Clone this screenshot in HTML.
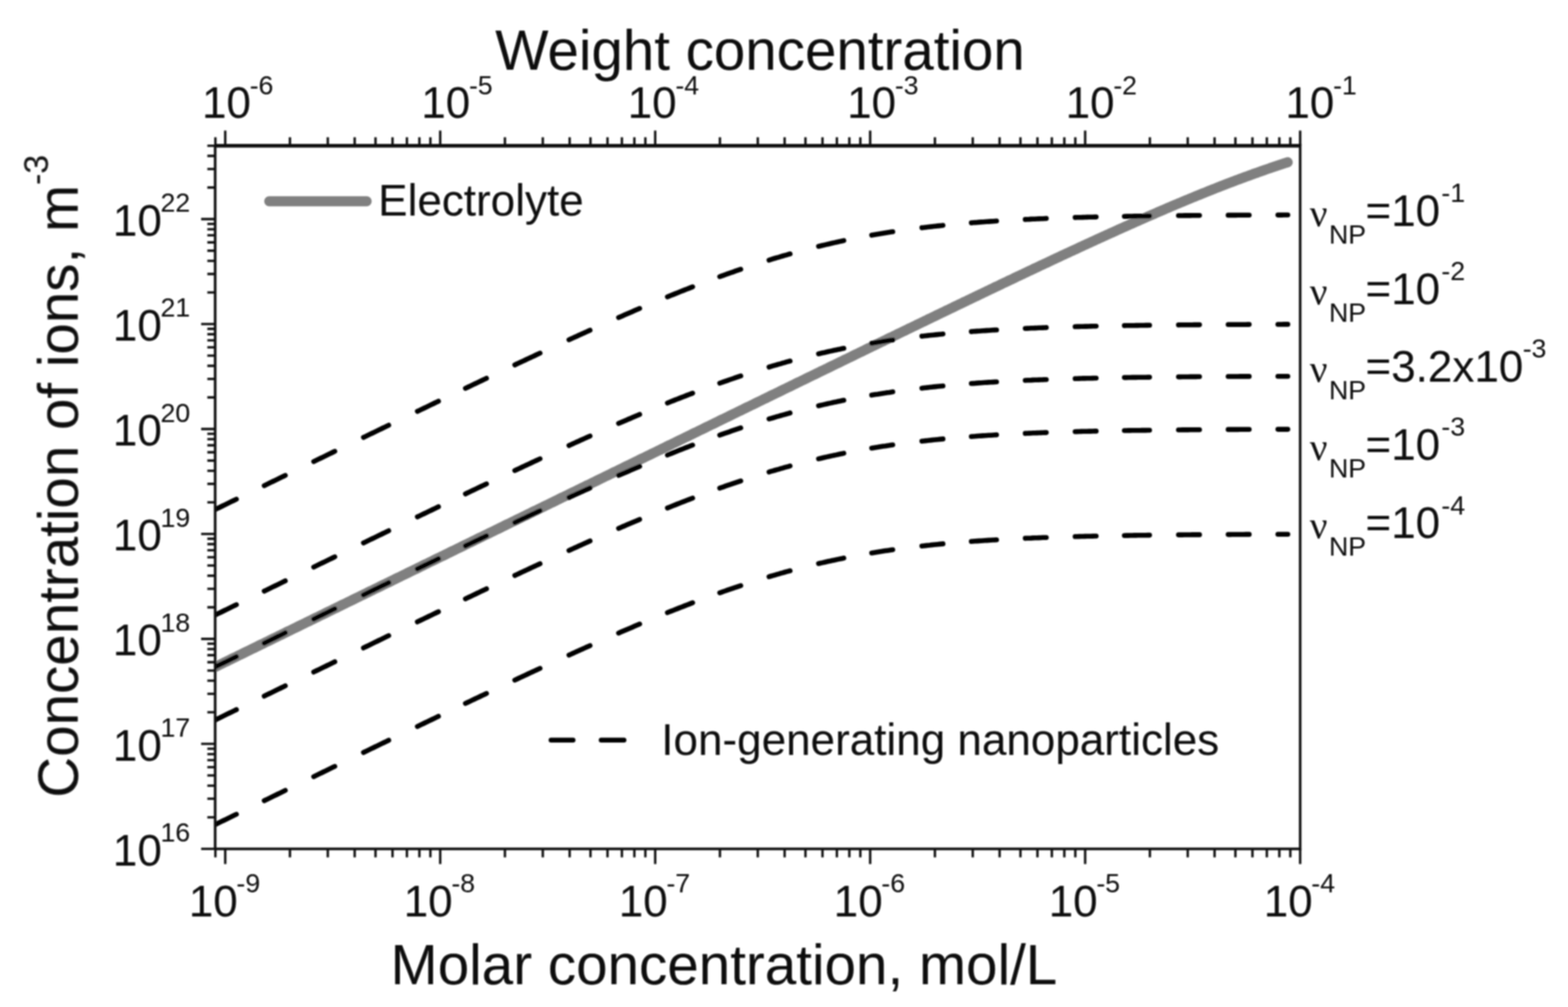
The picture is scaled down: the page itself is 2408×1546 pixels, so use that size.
<!DOCTYPE html>
<html lang="en"><head><meta charset="utf-8"><title>Concentration of ions vs molar concentration</title>
<style>
html,body{margin:0;padding:0;background:#fff;}
body{width:2408px;height:1546px;overflow:hidden;}
svg{display:block;}
text{white-space:pre;}
</style></head>
<body>
<svg width="2408" height="1546" viewBox="0 0 2408 1546">
<rect x="0" y="0" width="2408" height="1546" fill="#fff"/>
<defs><filter id="soft" x="0" y="0" width="2408" height="1546" filterUnits="userSpaceOnUse"><feGaussianBlur stdDeviation="0.8"/></filter></defs>
<g filter="url(#soft)">
<defs><clipPath id="plotclip"><rect x="330.4" y="223.7" width="1666.3000000000002" height="1079.5"/></clipPath></defs>
<path d="M320.4 1028.9L323.4 1027.4L326.4 1025.9L329.4 1024.5L332.4 1023.0L335.4 1021.5L338.4 1020.1L341.4 1018.6L344.4 1017.1L347.4 1015.7L350.4 1014.2L353.4 1012.8L356.4 1011.3L359.4 1009.8L362.4 1008.4L365.4 1006.9L368.4 1005.4L371.4 1004.0L374.4 1002.5L377.4 1001.0L380.4 999.6L383.4 998.1L386.4 996.6L389.4 995.2L392.4 993.7L395.4 992.3L398.4 990.8L401.4 989.3L404.4 987.9L407.4 986.4L410.4 984.9L413.4 983.5L416.4 982.0L419.4 980.5L422.4 979.1L425.4 977.6L428.4 976.1L431.4 974.7L434.4 973.2L437.4 971.8L440.4 970.3L443.4 968.8L446.4 967.4L449.4 965.9L452.4 964.4L455.4 963.0L458.4 961.5L461.4 960.0L464.4 958.6L467.4 957.1L470.4 955.6L473.4 954.2L476.4 952.7L479.4 951.3L482.4 949.8L485.4 948.3L488.4 946.9L491.4 945.4L494.4 943.9L497.4 942.5L500.4 941.0L503.4 939.5L506.4 938.1L509.4 936.6L512.4 935.1L515.4 933.7L518.4 932.2L521.4 930.8L524.4 929.3L527.4 927.8L530.4 926.4L533.4 924.9L536.4 923.4L539.4 922.0L542.4 920.5L545.4 919.0L548.4 917.6L551.4 916.1L554.4 914.6L557.4 913.2L560.4 911.7L563.4 910.3L566.4 908.8L569.4 907.3L572.4 905.9L575.4 904.4L578.4 902.9L581.4 901.5L584.4 900.0L587.4 898.5L590.4 897.1L593.4 895.6L596.4 894.2L599.4 892.7L602.4 891.2L605.4 889.8L608.4 888.3L611.4 886.8L614.4 885.4L617.4 883.9L620.4 882.4L623.4 881.0L626.4 879.5L629.4 878.0L632.4 876.6L635.4 875.1L638.4 873.7L641.4 872.2L644.4 870.7L647.4 869.3L650.4 867.8L653.4 866.3L656.4 864.9L659.4 863.4L662.4 861.9L665.4 860.5L668.4 859.0L671.4 857.5L674.4 856.1L677.4 854.6L680.4 853.2L683.4 851.7L686.4 850.2L689.4 848.8L692.4 847.3L695.4 845.8L698.4 844.4L701.4 842.9L704.4 841.4L707.4 840.0L710.4 838.5L713.4 837.0L716.4 835.6L719.4 834.1L722.4 832.7L725.4 831.2L728.4 829.7L731.4 828.3L734.4 826.8L737.4 825.3L740.4 823.9L743.4 822.4L746.4 820.9L749.4 819.5L752.4 818.0L755.4 816.6L758.4 815.1L761.4 813.6L764.4 812.2L767.4 810.7L770.4 809.2L773.4 807.8L776.4 806.3L779.4 804.8L782.4 803.4L785.4 801.9L788.4 800.4L791.4 799.0L794.4 797.5L797.4 796.1L800.4 794.6L803.4 793.1L806.4 791.7L809.4 790.2L812.4 788.7L815.4 787.3L818.4 785.8L821.4 784.3L824.4 782.9L827.4 781.4L830.4 779.9L833.4 778.5L836.4 777.0L839.4 775.6L842.4 774.1L845.4 772.6L848.4 771.2L851.4 769.7L854.4 768.2L857.4 766.8L860.4 765.3L863.4 763.8L866.4 762.4L869.4 760.9L872.4 759.5L875.4 758.0L878.4 756.5L881.4 755.1L884.4 753.6L887.4 752.1L890.4 750.7L893.4 749.2L896.4 747.7L899.4 746.3L902.4 744.8L905.4 743.4L908.4 741.9L911.4 740.4L914.4 739.0L917.4 737.5L920.4 736.0L923.4 734.6L926.4 733.1L929.4 731.6L932.4 730.2L935.4 728.7L938.4 727.3L941.4 725.8L944.4 724.3L947.4 722.9L950.4 721.4L953.4 719.9L956.4 718.5L959.4 717.0L962.4 715.5L965.4 714.1L968.4 712.6L971.4 711.2L974.4 709.7L977.4 708.2L980.4 706.8L983.4 705.3L986.4 703.8L989.4 702.4L992.4 700.9L995.4 699.4L998.4 698.0L1001.4 696.5L1004.4 695.1L1007.4 693.6L1010.4 692.1L1013.4 690.7L1016.4 689.2L1019.4 687.7L1022.4 686.3L1025.4 684.8L1028.4 683.3L1031.4 681.9L1034.4 680.4L1037.4 679.0L1040.4 677.5L1043.4 676.0L1046.4 674.6L1049.4 673.1L1052.4 671.6L1055.4 670.2L1058.4 668.7L1061.4 667.3L1064.4 665.8L1067.4 664.3L1070.4 662.9L1073.4 661.4L1076.4 659.9L1079.4 658.5L1082.4 657.0L1085.4 655.5L1088.4 654.1L1091.4 652.6L1094.4 651.2L1097.4 649.7L1100.4 648.2L1103.4 646.8L1106.4 645.3L1109.4 643.8L1112.4 642.4L1115.4 640.9L1118.4 639.5L1121.4 638.0L1124.4 636.5L1127.4 635.1L1130.4 633.6L1133.4 632.1L1136.4 630.7L1139.4 629.2L1142.4 627.8L1145.4 626.3L1148.4 624.8L1151.4 623.4L1154.4 621.9L1157.4 620.5L1160.4 619.0L1163.4 617.5L1166.4 616.1L1169.4 614.6L1172.4 613.1L1175.4 611.7L1178.4 610.2L1181.4 608.8L1184.4 607.3L1187.4 605.8L1190.4 604.4L1193.4 602.9L1196.4 601.5L1199.4 600.0L1202.4 598.5L1205.4 597.1L1208.4 595.6L1211.4 594.2L1214.4 592.7L1217.4 591.2L1220.4 589.8L1223.4 588.3L1226.4 586.8L1229.4 585.4L1232.4 583.9L1235.4 582.5L1238.4 581.0L1241.4 579.5L1244.4 578.1L1247.4 576.6L1250.4 575.2L1253.4 573.7L1256.4 572.2L1259.4 570.8L1262.4 569.3L1265.4 567.9L1268.4 566.4L1271.4 565.0L1274.4 563.5L1277.4 562.0L1280.4 560.6L1283.4 559.1L1286.4 557.7L1289.4 556.2L1292.4 554.7L1295.4 553.3L1298.4 551.8L1301.4 550.4L1304.4 548.9L1307.4 547.5L1310.4 546.0L1313.4 544.5L1316.4 543.1L1319.4 541.6L1322.4 540.2L1325.4 538.7L1328.4 537.3L1331.4 535.8L1334.4 534.3L1337.4 532.9L1340.4 531.4L1343.4 530.0L1346.4 528.5L1349.4 527.1L1352.4 525.6L1355.4 524.2L1358.4 522.7L1361.4 521.3L1364.4 519.8L1367.4 518.3L1370.4 516.9L1373.4 515.4L1376.4 514.0L1379.4 512.5L1382.4 511.1L1385.4 509.6L1388.4 508.2L1391.4 506.7L1394.4 505.3L1397.4 503.8L1400.4 502.4L1403.4 500.9L1406.4 499.5L1409.4 498.0L1412.4 496.6L1415.4 495.1L1418.4 493.7L1421.4 492.2L1424.4 490.8L1427.4 489.3L1430.4 487.9L1433.4 486.4L1436.4 485.0L1439.4 483.5L1442.4 482.1L1445.4 480.6L1448.4 479.2L1451.4 477.8L1454.4 476.3L1457.4 474.9L1460.4 473.4L1463.4 472.0L1466.4 470.5L1469.4 469.1L1472.4 467.6L1475.4 466.2L1478.4 464.8L1481.4 463.3L1484.4 461.9L1487.4 460.4L1490.4 459.0L1493.4 457.6L1496.4 456.1L1499.4 454.7L1502.4 453.2L1505.4 451.8L1508.4 450.4L1511.4 448.9L1514.4 447.5L1517.4 446.1L1520.4 444.6L1523.4 443.2L1526.4 441.8L1529.4 440.3L1532.4 438.9L1535.4 437.5L1538.4 436.0L1541.4 434.6L1544.4 433.2L1547.4 431.8L1550.4 430.3L1553.4 428.9L1556.4 427.5L1559.4 426.0L1562.4 424.6L1565.4 423.2L1568.4 421.8L1571.4 420.4L1574.4 418.9L1577.4 417.5L1580.4 416.1L1583.4 414.7L1586.4 413.3L1589.4 411.8L1592.4 410.4L1595.4 409.0L1598.4 407.6L1601.4 406.2L1604.4 404.8L1607.4 403.4L1610.4 402.0L1613.4 400.6L1616.4 399.1L1619.4 397.7L1622.4 396.3L1625.4 394.9L1628.4 393.5L1631.4 392.1L1634.4 390.7L1637.4 389.3L1640.4 387.9L1643.4 386.5L1646.4 385.2L1649.4 383.8L1652.4 382.4L1655.4 381.0L1658.4 379.6L1661.4 378.2L1664.4 376.8L1667.4 375.4L1670.4 374.1L1673.4 372.7L1676.4 371.3L1679.4 369.9L1682.4 368.5L1685.4 367.2L1688.4 365.8L1691.4 364.4L1694.4 363.1L1697.4 361.7L1700.4 360.3L1703.4 359.0L1706.4 357.6L1709.4 356.3L1712.4 354.9L1715.4 353.5L1718.4 352.2L1721.4 350.8L1724.4 349.5L1727.4 348.2L1730.4 346.8L1733.4 345.5L1736.4 344.1L1739.4 342.8L1742.4 341.5L1745.4 340.1L1748.4 338.8L1751.4 337.5L1754.4 336.2L1757.4 334.8L1760.4 333.5L1763.4 332.2L1766.4 330.9L1769.4 329.6L1772.4 328.3L1775.4 327.0L1778.4 325.7L1781.4 324.4L1784.4 323.1L1787.4 321.8L1790.4 320.5L1793.4 319.2L1796.4 318.0L1799.4 316.7L1802.4 315.4L1805.4 314.1L1808.4 312.9L1811.4 311.6L1814.4 310.4L1817.4 309.1L1820.4 307.8L1823.4 306.6L1826.4 305.4L1829.4 304.1L1832.4 302.9L1835.4 301.7L1838.4 300.4L1841.4 299.2L1844.4 298.0L1847.4 296.8L1850.4 295.6L1853.4 294.4L1856.4 293.1L1859.4 292.0L1862.4 290.8L1865.4 289.6L1868.4 288.4L1871.4 287.2L1874.4 286.0L1877.4 284.9L1880.4 283.7L1883.4 282.5L1886.4 281.4L1889.4 280.2L1892.4 279.1L1895.4 278.0L1898.4 276.8L1901.4 275.7L1904.4 274.6L1907.4 273.5L1910.4 272.4L1913.4 271.3L1916.4 270.2L1919.4 269.1L1922.4 268.0L1925.4 266.9L1928.4 265.8L1931.4 264.8L1934.4 263.7L1937.4 262.6L1940.4 261.6L1943.4 260.5L1946.4 259.5L1949.4 258.5L1952.4 257.4L1955.4 256.4L1958.4 255.4L1961.4 254.4L1964.4 253.4L1967.4 252.4L1970.4 251.4L1973.4 250.4L1976.4 249.5L1977.5 249.1" stroke="#808080" stroke-width="15.5" fill="none" stroke-linecap="round" stroke-linejoin="round" clip-path="url(#plotclip)"/>
<path d="M330.2 782.4L333.2 780.9L336.2 779.5L339.2 778.0L342.2 776.5L345.2 775.1L348.2 773.6L351.2 772.2L354.2 770.7L357.2 769.2L360.2 767.8L363.0 766.4M405.8 745.6L408.8 744.1L411.8 742.7L414.8 741.2L417.8 739.7L420.8 738.3L423.8 736.8L426.8 735.4L429.8 733.9L432.8 732.4L435.8 731.0L438.1 729.9M481.8 708.6L484.8 707.1L487.8 705.7L490.8 704.2L493.8 702.8L496.8 701.3L499.8 699.9L502.8 698.4L505.8 696.9L508.8 695.5L511.8 694.0L514.1 692.9M558.2 671.5L561.2 670.1L564.2 668.6L567.2 667.2L570.2 665.7L573.2 664.3L576.2 662.8L579.2 661.4L582.2 659.9L585.2 658.5L588.2 657.0L591.2 655.6L594.2 654.1L596.9 652.8M641.0 631.5L644.0 630.1L647.0 628.6L650.0 627.2L653.0 625.8L656.0 624.3L659.0 622.9L662.0 621.4L665.0 620.0L668.0 618.5L671.0 617.1L673.3 616.0M714.8 596.1L717.8 594.7L720.8 593.3L723.8 591.8L726.8 590.4L729.8 589.0L732.8 587.6L735.8 586.1L738.8 584.7L741.8 583.3L744.8 581.9L747.1 580.8M790.6 560.2L793.6 558.8L796.6 557.4L799.6 556.0L802.6 554.6L805.6 553.2L808.6 551.8L811.6 550.4L814.6 549.0L817.6 547.6L820.6 546.2L823.6 544.8L826.6 543.4L829.3 542.1M873.8 521.6L876.8 520.2L879.8 518.9L882.8 517.5L885.8 516.2L888.8 514.8L891.8 513.4L894.8 512.1L897.8 510.7L900.8 509.4L903.8 508.0L906.1 507.0M950.0 487.5L953.0 486.2L956.0 484.9L959.0 483.6L962.0 482.3L965.0 481.0L968.0 479.7L971.0 478.4L974.0 477.1L977.0 475.8L980.0 474.6L982.3 473.6M1025.0 455.8L1028.0 454.5L1031.0 453.3L1034.0 452.1L1037.0 450.9L1040.0 449.7L1043.0 448.5L1046.0 447.3L1049.0 446.1L1052.0 444.9L1055.0 443.8L1058.0 442.6L1061.0 441.4L1063.7 440.4M1105.3 424.7L1108.3 423.6L1111.3 422.6L1114.3 421.5L1117.3 420.4L1120.3 419.4L1123.3 418.3L1126.3 417.3L1129.3 416.2L1132.3 415.2L1135.3 414.2L1137.6 413.4M1181.0 399.3L1184.0 398.4L1187.0 397.4L1190.0 396.5L1193.0 395.6L1196.0 394.8L1199.0 393.9L1202.0 393.0L1205.0 392.1L1208.0 391.3L1211.0 390.4L1213.3 389.8M1257.1 378.2L1260.1 377.5L1263.1 376.8L1266.1 376.1L1269.1 375.4L1272.1 374.7L1275.1 374.0L1278.1 373.3L1281.1 372.6L1284.1 371.9L1287.1 371.3L1290.1 370.6L1293.1 370.0L1295.8 369.4M1338.7 361.1L1341.7 360.5L1344.7 360.0L1347.7 359.5L1350.7 359.0L1353.7 358.5L1356.7 358.0L1359.7 357.5L1362.7 357.0L1365.7 356.6L1368.7 356.1L1371.0 355.8M1415.8 349.6L1418.8 349.3L1421.8 348.9L1424.8 348.6L1427.8 348.2L1430.8 347.9L1433.8 347.5L1436.8 347.2L1439.8 346.9L1442.8 346.6L1445.8 346.3L1448.1 346.0M1491.7 342.1L1494.7 341.8L1497.7 341.6L1500.7 341.4L1503.7 341.1L1506.7 340.9L1509.7 340.7L1512.7 340.5L1515.7 340.3L1518.7 340.1L1521.7 339.9L1524.7 339.7L1527.7 339.5L1530.4 339.3M1574.5 336.9L1577.5 336.7L1580.5 336.6L1583.5 336.4L1586.5 336.3L1589.5 336.2L1592.5 336.0L1595.5 335.9L1598.5 335.8L1601.5 335.7L1604.5 335.5L1606.8 335.4M1651.1 333.9L1654.1 333.8L1657.1 333.8L1660.1 333.7L1663.1 333.6L1666.1 333.5L1669.1 333.4L1672.1 333.3L1675.1 333.3L1678.1 333.2L1681.1 333.1L1683.4 333.1M1726.7 332.2L1729.7 332.1L1732.7 332.1L1735.7 332.0L1738.7 332.0L1741.7 331.9L1744.7 331.9L1747.7 331.8L1750.7 331.8L1753.7 331.7L1756.7 331.7L1759.7 331.6L1762.7 331.6L1765.4 331.6M1809.8 331.0L1812.8 331.0L1815.8 331.0L1818.8 330.9L1821.8 330.9L1824.8 330.9L1827.8 330.9L1830.8 330.8L1833.8 330.8L1836.8 330.8L1839.8 330.8L1842.1 330.7M1886.1 330.4L1889.1 330.4L1892.1 330.4L1895.1 330.4L1898.1 330.4L1901.1 330.3L1904.1 330.3L1907.1 330.3L1910.1 330.3L1913.1 330.3L1916.1 330.3L1918.4 330.3M1962.5 330.1L1965.5 330.1L1968.5 330.1L1971.5 330.0L1974.5 330.0L1977.5 330.0L1977.7 330.0M330.2 944.3L333.2 942.9L336.2 941.4L339.2 940.0L342.2 938.5L345.2 937.0L348.2 935.6L351.2 934.1L354.2 932.6L357.2 931.2L360.2 929.7L363.0 928.4M405.8 907.5L408.8 906.1L411.8 904.6L414.8 903.1L417.8 901.7L420.8 900.2L423.8 898.8L426.8 897.3L429.8 895.8L432.8 894.4L435.8 892.9L438.1 891.8M481.8 870.6L484.8 869.1L487.8 867.7L490.8 866.2L493.8 864.7L496.8 863.3L499.8 861.8L502.8 860.4L505.8 858.9L508.8 857.5L511.8 856.0L514.1 854.9M558.2 833.5L561.2 832.1L564.2 830.6L567.2 829.2L570.2 827.7L573.2 826.3L576.2 824.8L579.2 823.4L582.2 821.9L585.2 820.5L588.2 819.0L591.2 817.6L594.2 816.1L596.9 814.8M641.0 793.5L644.0 792.1L647.0 790.7L650.0 789.2L653.0 787.8L656.0 786.3L659.0 784.9L662.0 783.5L665.0 782.0L668.0 780.6L671.0 779.1L673.3 778.0M714.8 758.2L717.8 756.8L720.8 755.4L723.8 753.9L726.8 752.5L729.8 751.1L732.8 749.7L735.8 748.2L738.8 746.8L741.8 745.4L744.8 744.0L747.1 742.9M790.6 722.4L793.6 721.0L796.6 719.6L799.6 718.2L802.6 716.8L805.6 715.4L808.6 714.0L811.6 712.6L814.6 711.2L817.6 709.8L820.6 708.4L823.6 707.0L826.6 705.6L829.3 704.4M873.8 684.0L876.8 682.6L879.8 681.2L882.8 679.9L885.8 678.5L888.8 677.2L891.8 675.8L894.8 674.5L897.8 673.1L900.8 671.8L903.8 670.4L906.1 669.4M950.0 650.1L953.0 648.8L956.0 647.5L959.0 646.2L962.0 644.9L965.0 643.6L968.0 642.4L971.0 641.1L974.0 639.8L977.0 638.5L980.0 637.3L982.3 636.3M1025.0 618.7L1028.0 617.5L1031.0 616.3L1034.0 615.1L1037.0 613.9L1040.0 612.8L1043.0 611.6L1046.0 610.4L1049.0 609.2L1052.0 608.1L1055.0 606.9L1058.0 605.7L1061.0 604.6L1063.7 603.6M1105.3 588.3L1108.3 587.2L1111.3 586.1L1114.3 585.1L1117.3 584.1L1120.3 583.0L1123.3 582.0L1126.3 581.0L1129.3 579.9L1132.3 578.9L1135.3 577.9L1137.6 577.2M1181.0 563.5L1184.0 562.6L1187.0 561.7L1190.0 560.8L1193.0 560.0L1196.0 559.1L1199.0 558.3L1202.0 557.4L1205.0 556.6L1208.0 555.7L1211.0 554.9L1213.3 554.3M1257.1 543.2L1260.1 542.5L1263.1 541.8L1266.1 541.2L1269.1 540.5L1272.1 539.8L1275.1 539.1L1278.1 538.5L1281.1 537.8L1284.1 537.2L1287.1 536.6L1290.1 536.0L1293.1 535.3L1295.8 534.8M1338.7 526.9L1341.7 526.4L1344.7 525.9L1347.7 525.4L1350.7 524.9L1353.7 524.5L1356.7 524.0L1359.7 523.5L1362.7 523.1L1365.7 522.6L1368.7 522.2L1371.0 521.9M1415.8 516.1L1418.8 515.8L1421.8 515.4L1424.8 515.1L1427.8 514.8L1430.8 514.5L1433.8 514.2L1436.8 513.9L1439.8 513.6L1442.8 513.3L1445.8 513.0L1448.1 512.7M1491.7 509.1L1494.7 508.8L1497.7 508.6L1500.7 508.4L1503.7 508.2L1506.7 508.0L1509.7 507.8L1512.7 507.6L1515.7 507.4L1518.7 507.2L1521.7 507.0L1524.7 506.8L1527.7 506.6L1530.4 506.5M1574.5 504.2L1577.5 504.1L1580.5 504.0L1583.5 503.8L1586.5 503.7L1589.5 503.6L1592.5 503.5L1595.5 503.3L1598.5 503.2L1601.5 503.1L1604.5 503.0L1606.8 502.9M1651.1 501.5L1654.1 501.4L1657.1 501.4L1660.1 501.3L1663.1 501.2L1666.1 501.1L1669.1 501.1L1672.1 501.0L1675.1 500.9L1678.1 500.8L1681.1 500.8L1683.4 500.7M1726.7 499.9L1729.7 499.8L1732.7 499.8L1735.7 499.8L1738.7 499.7L1741.7 499.7L1744.7 499.6L1747.7 499.6L1750.7 499.5L1753.7 499.5L1756.7 499.5L1759.7 499.4L1762.7 499.4L1765.4 499.3M1809.8 498.9L1812.8 498.8L1815.8 498.8L1818.8 498.8L1821.8 498.7L1824.8 498.7L1827.8 498.7L1830.8 498.7L1833.8 498.6L1836.8 498.6L1839.8 498.6L1842.1 498.6M1886.1 498.3L1889.1 498.3L1892.1 498.3L1895.1 498.2L1898.1 498.2L1901.1 498.2L1904.1 498.2L1907.1 498.2L1910.1 498.2L1913.1 498.2L1916.1 498.1L1918.4 498.1M1962.5 498.0L1965.5 498.0L1968.5 498.0L1971.5 497.9L1974.5 497.9L1977.5 497.9L1977.7 497.9M330.2 1024.1L333.2 1022.6L336.2 1021.2L339.2 1019.7L342.2 1018.2L345.2 1016.8L348.2 1015.3L351.2 1013.8L354.2 1012.4L357.2 1010.9L360.2 1009.5L363.0 1008.1M405.8 987.3L408.8 985.8L411.8 984.3L414.8 982.9L417.8 981.4L420.8 980.0L423.8 978.5L426.8 977.0L429.8 975.6L432.8 974.1L435.8 972.7L438.1 971.5M481.8 950.3L484.8 948.8L487.8 947.4L490.8 945.9L493.8 944.5L496.8 943.0L499.8 941.6L502.8 940.1L505.8 938.7L508.8 937.2L511.8 935.7L514.1 934.6M558.2 913.3L561.2 911.8L564.2 910.4L567.2 908.9L570.2 907.4L573.2 906.0L576.2 904.5L579.2 903.1L582.2 901.6L585.2 900.2L588.2 898.7L591.2 897.3L594.2 895.8L596.9 894.5M641.0 873.3L644.0 871.8L647.0 870.4L650.0 869.0L653.0 867.5L656.0 866.1L659.0 864.6L662.0 863.2L665.0 861.8L668.0 860.3L671.0 858.9L673.3 857.8M714.8 838.0L717.8 836.5L720.8 835.1L723.8 833.7L726.8 832.2L729.8 830.8L732.8 829.4L735.8 828.0L738.8 826.5L741.8 825.1L744.8 823.7L747.1 822.6M790.6 802.1L793.6 800.7L796.6 799.3L799.6 797.9L802.6 796.5L805.6 795.1L808.6 793.7L811.6 792.3L814.6 790.9L817.6 789.5L820.6 788.1L823.6 786.7L826.6 785.3L829.3 784.1M873.8 763.7L876.8 762.3L879.8 761.0L882.8 759.6L885.8 758.3L888.8 756.9L891.8 755.6L894.8 754.2L897.8 752.9L900.8 751.5L903.8 750.2L906.1 749.1M950.0 729.8L953.0 728.5L956.0 727.2L959.0 726.0L962.0 724.7L965.0 723.4L968.0 722.1L971.0 720.8L974.0 719.5L977.0 718.3L980.0 717.0L982.3 716.0M1025.0 698.5L1028.0 697.3L1031.0 696.1L1034.0 694.9L1037.0 693.7L1040.0 692.5L1043.0 691.3L1046.0 690.1L1049.0 689.0L1052.0 687.8L1055.0 686.6L1058.0 685.5L1061.0 684.3L1063.7 683.3M1105.3 668.0L1108.3 666.9L1111.3 665.9L1114.3 664.8L1117.3 663.8L1120.3 662.8L1123.3 661.7L1126.3 660.7L1129.3 659.7L1132.3 658.7L1135.3 657.7L1137.6 656.9M1181.0 643.2L1184.0 642.3L1187.0 641.5L1190.0 640.6L1193.0 639.7L1196.0 638.9L1199.0 638.0L1202.0 637.2L1205.0 636.3L1208.0 635.5L1211.0 634.7L1213.3 634.0M1257.1 623.0L1260.1 622.3L1263.1 621.6L1266.1 620.9L1269.1 620.2L1272.1 619.5L1275.1 618.9L1278.1 618.2L1281.1 617.6L1284.1 617.0L1287.1 616.3L1290.1 615.7L1293.1 615.1L1295.8 614.5M1338.7 606.6L1341.7 606.1L1344.7 605.6L1347.7 605.2L1350.7 604.7L1353.7 604.2L1356.7 603.7L1359.7 603.3L1362.7 602.8L1365.7 602.4L1368.7 601.9L1371.0 601.6M1415.8 595.9L1418.8 595.5L1421.8 595.2L1424.8 594.9L1427.8 594.5L1430.8 594.2L1433.8 593.9L1436.8 593.6L1439.8 593.3L1442.8 593.0L1445.8 592.7L1448.1 592.5M1491.7 588.8L1494.7 588.6L1497.7 588.4L1500.7 588.1L1503.7 587.9L1506.7 587.7L1509.7 587.5L1512.7 587.3L1515.7 587.1L1518.7 586.9L1521.7 586.8L1524.7 586.6L1527.7 586.4L1530.4 586.2M1574.5 584.0L1577.5 583.8L1580.5 583.7L1583.5 583.6L1586.5 583.4L1589.5 583.3L1592.5 583.2L1595.5 583.1L1598.5 583.0L1601.5 582.9L1604.5 582.7L1606.8 582.7M1651.1 581.3L1654.1 581.2L1657.1 581.1L1660.1 581.0L1663.1 580.9L1666.1 580.9L1669.1 580.8L1672.1 580.7L1675.1 580.7L1678.1 580.6L1681.1 580.5L1683.4 580.5M1726.7 579.6L1729.7 579.6L1732.7 579.5L1735.7 579.5L1738.7 579.4L1741.7 579.4L1744.7 579.4L1747.7 579.3L1750.7 579.3L1753.7 579.2L1756.7 579.2L1759.7 579.2L1762.7 579.1L1765.4 579.1M1809.8 578.6L1812.8 578.6L1815.8 578.5L1818.8 578.5L1821.8 578.5L1824.8 578.5L1827.8 578.4L1830.8 578.4L1833.8 578.4L1836.8 578.4L1839.8 578.3L1842.1 578.3M1886.1 578.0L1889.1 578.0L1892.1 578.0L1895.1 578.0L1898.1 578.0L1901.1 578.0L1904.1 577.9L1907.1 577.9L1910.1 577.9L1913.1 577.9L1916.1 577.9L1918.4 577.9M1962.5 577.7L1965.5 577.7L1968.5 577.7L1971.5 577.7L1974.5 577.7L1977.5 577.7L1977.7 577.7M330.2 1105.5L333.2 1104.0L336.2 1102.6L339.2 1101.1L342.2 1099.6L345.2 1098.2L348.2 1096.7L351.2 1095.2L354.2 1093.8L357.2 1092.3L360.2 1090.9L363.0 1089.5M405.8 1068.7L408.8 1067.2L411.8 1065.7L414.8 1064.3L417.8 1062.8L420.8 1061.4L423.8 1059.9L426.8 1058.4L429.8 1057.0L432.8 1055.5L435.8 1054.1L438.1 1052.9M481.8 1031.7L484.8 1030.2L487.8 1028.8L490.8 1027.3L493.8 1025.9L496.8 1024.4L499.8 1023.0L502.8 1021.5L505.8 1020.1L508.8 1018.6L511.8 1017.1L514.1 1016.0M558.2 994.7L561.2 993.2L564.2 991.8L567.2 990.3L570.2 988.8L573.2 987.4L576.2 985.9L579.2 984.5L582.2 983.0L585.2 981.6L588.2 980.1L591.2 978.7L594.2 977.2L596.9 975.9M641.0 954.7L644.0 953.2L647.0 951.8L650.0 950.4L653.0 948.9L656.0 947.5L659.0 946.0L662.0 944.6L665.0 943.2L668.0 941.7L671.0 940.3L673.3 939.2M714.8 919.4L717.8 917.9L720.8 916.5L723.8 915.1L726.8 913.6L729.8 912.2L732.8 910.8L735.8 909.4L738.8 907.9L741.8 906.5L744.8 905.1L747.1 904.0M790.6 883.5L793.6 882.1L796.6 880.7L799.6 879.3L802.6 877.9L805.6 876.5L808.6 875.1L811.6 873.7L814.6 872.3L817.6 870.9L820.6 869.5L823.6 868.1L826.6 866.7L829.3 865.5M873.8 845.1L876.8 843.7L879.8 842.4L882.8 841.0L885.8 839.7L888.8 838.3L891.8 837.0L894.8 835.6L897.8 834.3L900.8 832.9L903.8 831.6L906.1 830.5M950.0 811.2L953.0 809.9L956.0 808.6L959.0 807.4L962.0 806.1L965.0 804.8L968.0 803.5L971.0 802.2L974.0 800.9L977.0 799.7L980.0 798.4L982.3 797.4M1025.0 779.9L1028.0 778.7L1031.0 777.5L1034.0 776.3L1037.0 775.1L1040.0 773.9L1043.0 772.7L1046.0 771.5L1049.0 770.4L1052.0 769.2L1055.0 768.0L1058.0 766.9L1061.0 765.7L1063.7 764.7M1105.3 749.4L1108.3 748.3L1111.3 747.3L1114.3 746.2L1117.3 745.2L1120.3 744.2L1123.3 743.1L1126.3 742.1L1129.3 741.1L1132.3 740.1L1135.3 739.1L1137.6 738.3M1181.0 724.6L1184.0 723.7L1187.0 722.9L1190.0 722.0L1193.0 721.1L1196.0 720.3L1199.0 719.4L1202.0 718.6L1205.0 717.7L1208.0 716.9L1211.0 716.1L1213.3 715.4M1257.1 704.4L1260.1 703.7L1263.1 703.0L1266.1 702.3L1269.1 701.6L1272.1 700.9L1275.1 700.3L1278.1 699.6L1281.1 699.0L1284.1 698.4L1287.1 697.7L1290.1 697.1L1293.1 696.5L1295.8 695.9M1338.7 688.0L1341.7 687.5L1344.7 687.0L1347.7 686.6L1350.7 686.1L1353.7 685.6L1356.7 685.1L1359.7 684.7L1362.7 684.2L1365.7 683.8L1368.7 683.3L1371.0 683.0M1415.8 677.3L1418.8 676.9L1421.8 676.6L1424.8 676.3L1427.8 675.9L1430.8 675.6L1433.8 675.3L1436.8 675.0L1439.8 674.7L1442.8 674.4L1445.8 674.1L1448.1 673.9M1491.7 670.2L1494.7 670.0L1497.7 669.8L1500.7 669.5L1503.7 669.3L1506.7 669.1L1509.7 668.9L1512.7 668.7L1515.7 668.5L1518.7 668.3L1521.7 668.2L1524.7 668.0L1527.7 667.8L1530.4 667.6M1574.5 665.4L1577.5 665.2L1580.5 665.1L1583.5 665.0L1586.5 664.8L1589.5 664.7L1592.5 664.6L1595.5 664.5L1598.5 664.4L1601.5 664.3L1604.5 664.1L1606.8 664.1M1651.1 662.7L1654.1 662.6L1657.1 662.5L1660.1 662.4L1663.1 662.3L1666.1 662.3L1669.1 662.2L1672.1 662.1L1675.1 662.1L1678.1 662.0L1681.1 661.9L1683.4 661.9M1726.7 661.0L1729.7 661.0L1732.7 660.9L1735.7 660.9L1738.7 660.8L1741.7 660.8L1744.7 660.8L1747.7 660.7L1750.7 660.7L1753.7 660.6L1756.7 660.6L1759.7 660.6L1762.7 660.5L1765.4 660.5M1809.8 660.0L1812.8 660.0L1815.8 659.9L1818.8 659.9L1821.8 659.9L1824.8 659.9L1827.8 659.8L1830.8 659.8L1833.8 659.8L1836.8 659.8L1839.8 659.7L1842.1 659.7M1886.1 659.4L1889.1 659.4L1892.1 659.4L1895.1 659.4L1898.1 659.4L1901.1 659.4L1904.1 659.3L1907.1 659.3L1910.1 659.3L1913.1 659.3L1916.1 659.3L1918.4 659.3M1962.5 659.1L1965.5 659.1L1968.5 659.1L1971.5 659.1L1974.5 659.1L1977.5 659.1L1977.7 659.1M330.2 1266.1L333.2 1264.6L336.2 1263.1L339.2 1261.7L342.2 1260.2L345.2 1258.8L348.2 1257.3L351.2 1255.8L354.2 1254.4L357.2 1252.9L360.2 1251.4L363.0 1250.1M405.8 1229.2L408.8 1227.8L411.8 1226.3L414.8 1224.9L417.8 1223.4L420.8 1221.9L423.8 1220.5L426.8 1219.0L429.8 1217.6L432.8 1216.1L435.8 1214.7L438.1 1213.5M481.8 1192.3L484.8 1190.8L487.8 1189.4L490.8 1187.9L493.8 1186.5L496.8 1185.0L499.8 1183.6L502.8 1182.1L505.8 1180.6L508.8 1179.2L511.8 1177.7L514.1 1176.6M558.2 1155.2L561.2 1153.8L564.2 1152.3L567.2 1150.9L570.2 1149.4L573.2 1148.0L576.2 1146.5L579.2 1145.1L582.2 1143.6L585.2 1142.2L588.2 1140.7L591.2 1139.3L594.2 1137.8L596.9 1136.5M641.0 1115.3L644.0 1113.8L647.0 1112.4L650.0 1111.0L653.0 1109.5L656.0 1108.1L659.0 1106.6L662.0 1105.2L665.0 1103.8L668.0 1102.3L671.0 1100.9L673.3 1099.8M714.8 1079.9L717.8 1078.5L720.8 1077.1L723.8 1075.7L726.8 1074.2L729.8 1072.8L732.8 1071.4L735.8 1070.0L738.8 1068.5L741.8 1067.1L744.8 1065.7L747.1 1064.6M790.6 1044.1L793.6 1042.7L796.6 1041.3L799.6 1039.9L802.6 1038.5L805.6 1037.1L808.6 1035.7L811.6 1034.3L814.6 1032.9L817.6 1031.5L820.6 1030.1L823.6 1028.8L826.6 1027.4L829.3 1026.1M873.8 1005.7L876.8 1004.4L879.8 1003.0L882.8 1001.6L885.8 1000.3L888.8 998.9L891.8 997.6L894.8 996.2L897.8 994.9L900.8 993.5L903.8 992.2L906.1 991.2M950.0 971.9L953.0 970.6L956.0 969.3L959.0 968.0L962.0 966.7L965.0 965.4L968.0 964.2L971.0 962.9L974.0 961.6L977.0 960.3L980.0 959.1L982.3 958.1M1025.0 940.5L1028.0 939.3L1031.0 938.1L1034.0 937.0L1037.0 935.8L1040.0 934.6L1043.0 933.4L1046.0 932.2L1049.0 931.1L1052.0 929.9L1055.0 928.7L1058.0 927.6L1061.0 926.4L1063.7 925.4M1105.3 910.1L1108.3 909.1L1111.3 908.0L1114.3 907.0L1117.3 905.9L1120.3 904.9L1123.3 903.9L1126.3 902.9L1129.3 901.8L1132.3 900.8L1135.3 899.8L1137.6 899.1M1181.0 885.4L1184.0 884.5L1187.0 883.7L1190.0 882.8L1193.0 881.9L1196.0 881.1L1199.0 880.2L1202.0 879.4L1205.0 878.5L1208.0 877.7L1211.0 876.9L1213.3 876.3M1257.1 865.2L1260.1 864.5L1263.1 863.9L1266.1 863.2L1269.1 862.5L1272.1 861.8L1275.1 861.2L1278.1 860.5L1281.1 859.9L1284.1 859.3L1287.1 858.6L1290.1 858.0L1293.1 857.4L1295.8 856.8M1338.7 849.0L1341.7 848.5L1344.7 848.0L1347.7 847.5L1350.7 847.0L1353.7 846.6L1356.7 846.1L1359.7 845.6L1362.7 845.2L1365.7 844.8L1368.7 844.3L1371.0 844.0M1415.8 838.3L1418.8 837.9L1421.8 837.6L1424.8 837.3L1427.8 837.0L1430.8 836.6L1433.8 836.3L1436.8 836.0L1439.8 835.7L1442.8 835.4L1445.8 835.1L1448.1 834.9M1491.7 831.3L1494.7 831.0L1497.7 830.8L1500.7 830.6L1503.7 830.4L1506.7 830.2L1509.7 830.0L1512.7 829.8L1515.7 829.6L1518.7 829.4L1521.7 829.2L1524.7 829.0L1527.7 828.9L1530.4 828.7M1574.5 826.4L1577.5 826.3L1580.5 826.2L1583.5 826.1L1586.5 825.9L1589.5 825.8L1592.5 825.7L1595.5 825.6L1598.5 825.5L1601.5 825.3L1604.5 825.2L1606.8 825.2M1651.1 823.8L1654.1 823.7L1657.1 823.6L1660.1 823.5L1663.1 823.5L1666.1 823.4L1669.1 823.3L1672.1 823.2L1675.1 823.2L1678.1 823.1L1681.1 823.0L1683.4 823.0M1726.7 822.2L1729.7 822.1L1732.7 822.1L1735.7 822.0L1738.7 822.0L1741.7 821.9L1744.7 821.9L1747.7 821.8L1750.7 821.8L1753.7 821.8L1756.7 821.7L1759.7 821.7L1762.7 821.6L1765.4 821.6M1809.8 821.1L1812.8 821.1L1815.8 821.1L1818.8 821.0L1821.8 821.0L1824.8 821.0L1827.8 821.0L1830.8 820.9L1833.8 820.9L1836.8 820.9L1839.8 820.9L1842.1 820.9M1886.1 820.6L1889.1 820.6L1892.1 820.5L1895.1 820.5L1898.1 820.5L1901.1 820.5L1904.1 820.5L1907.1 820.5L1910.1 820.5L1913.1 820.4L1916.1 820.4L1918.4 820.4M1962.5 820.2L1965.5 820.2L1968.5 820.2L1971.5 820.2L1974.5 820.2L1977.5 820.2L1977.7 820.2" stroke="#050505" stroke-width="7.6" fill="none" stroke-linecap="round" clip-path="url(#plotclip)"/>
<line x1="413.5" y1="309" x2="563" y2="309" stroke="#808080" stroke-width="15.5" stroke-linecap="round"/>
<path d="M846.3 1136.2h33.7M923.3 1136.2h34.9" stroke="#050505" stroke-width="7.6" fill="none" stroke-linecap="round"/>
<line x1="330.40" y1="223.70" x2="1996.70" y2="223.70" stroke="#0c0c0c" stroke-width="5.4" />
<line x1="330.40" y1="1303.20" x2="1996.70" y2="1303.20" stroke="#0c0c0c" stroke-width="4.0" />
<line x1="330.40" y1="223.70" x2="330.40" y2="1303.20" stroke="#0c0c0c" stroke-width="4.0" />
<line x1="1996.70" y1="221.00" x2="1996.70" y2="1305.20" stroke="#0c0c0c" stroke-width="3.9" />
<path d="M330.79 1303.20v13.0M330.79 223.70v-13.0M345.90 1303.20v23.2M345.90 223.70v-23.2M445.29 1303.20v13.0M445.29 223.70v-13.0M503.42 1303.20v13.0M503.42 223.70v-13.0M544.67 1303.20v13.0M544.67 223.70v-13.0M576.66 1303.20v13.0M576.66 223.70v-13.0M602.81 1303.20v13.0M602.81 223.70v-13.0M624.91 1303.20v13.0M624.91 223.70v-13.0M644.06 1303.20v13.0M644.06 223.70v-13.0M660.94 1303.20v13.0M660.94 223.70v-13.0M676.05 1303.20v23.2M676.05 223.70v-23.2M775.44 1303.20v13.0M775.44 223.70v-13.0M833.57 1303.20v13.0M833.57 223.70v-13.0M874.82 1303.20v13.0M874.82 223.70v-13.0M906.81 1303.20v13.0M906.81 223.70v-13.0M932.96 1303.20v13.0M932.96 223.70v-13.0M955.06 1303.20v13.0M955.06 223.70v-13.0M974.21 1303.20v13.0M974.21 223.70v-13.0M991.09 1303.20v13.0M991.09 223.70v-13.0M1006.20 1303.20v23.2M1006.20 223.70v-23.2M1105.59 1303.20v13.0M1105.59 223.70v-13.0M1163.72 1303.20v13.0M1163.72 223.70v-13.0M1204.97 1303.20v13.0M1204.97 223.70v-13.0M1236.96 1303.20v13.0M1236.96 223.70v-13.0M1263.11 1303.20v13.0M1263.11 223.70v-13.0M1285.21 1303.20v13.0M1285.21 223.70v-13.0M1304.36 1303.20v13.0M1304.36 223.70v-13.0M1321.24 1303.20v13.0M1321.24 223.70v-13.0M1336.35 1303.20v23.2M1336.35 223.70v-23.2M1435.74 1303.20v13.0M1435.74 223.70v-13.0M1493.87 1303.20v13.0M1493.87 223.70v-13.0M1535.12 1303.20v13.0M1535.12 223.70v-13.0M1567.11 1303.20v13.0M1567.11 223.70v-13.0M1593.26 1303.20v13.0M1593.26 223.70v-13.0M1615.36 1303.20v13.0M1615.36 223.70v-13.0M1634.51 1303.20v13.0M1634.51 223.70v-13.0M1651.39 1303.20v13.0M1651.39 223.70v-13.0M1666.50 1303.20v23.2M1666.50 223.70v-23.2M1765.89 1303.20v13.0M1765.89 223.70v-13.0M1824.02 1303.20v13.0M1824.02 223.70v-13.0M1865.27 1303.20v13.0M1865.27 223.70v-13.0M1897.26 1303.20v13.0M1897.26 223.70v-13.0M1923.41 1303.20v13.0M1923.41 223.70v-13.0M1945.51 1303.20v13.0M1945.51 223.70v-13.0M1964.66 1303.20v13.0M1964.66 223.70v-13.0M1981.54 1303.20v13.0M1981.54 223.70v-13.0M1996.65 1303.20v23.2M1996.65 223.70v-23.2M330.40 1303.20h-21.5M330.40 1254.69h-12.0M330.40 1226.32h-12.0M330.40 1206.18h-12.0M330.40 1190.57h-12.0M330.40 1177.81h-12.0M330.40 1167.02h-12.0M330.40 1157.68h-12.0M330.40 1149.43h-12.0M330.40 1142.06h-21.5M330.40 1093.55h-12.0M330.40 1065.18h-12.0M330.40 1045.04h-12.0M330.40 1029.43h-12.0M330.40 1016.67h-12.0M330.40 1005.88h-12.0M330.40 996.54h-12.0M330.40 988.29h-12.0M330.40 980.92h-21.5M330.40 932.41h-12.0M330.40 904.04h-12.0M330.40 883.90h-12.0M330.40 868.29h-12.0M330.40 855.53h-12.0M330.40 844.74h-12.0M330.40 835.40h-12.0M330.40 827.15h-12.0M330.40 819.78h-21.5M330.40 771.27h-12.0M330.40 742.90h-12.0M330.40 722.76h-12.0M330.40 707.15h-12.0M330.40 694.39h-12.0M330.40 683.60h-12.0M330.40 674.26h-12.0M330.40 666.01h-12.0M330.40 658.64h-21.5M330.40 610.13h-12.0M330.40 581.76h-12.0M330.40 561.62h-12.0M330.40 546.01h-12.0M330.40 533.25h-12.0M330.40 522.46h-12.0M330.40 513.12h-12.0M330.40 504.87h-12.0M330.40 497.50h-21.5M330.40 448.99h-12.0M330.40 420.62h-12.0M330.40 400.48h-12.0M330.40 384.87h-12.0M330.40 372.11h-12.0M330.40 361.32h-12.0M330.40 351.98h-12.0M330.40 343.73h-12.0M330.40 336.36h-21.5M330.40 287.85h-12.0M330.40 259.48h-12.0M330.40 239.34h-12.0M330.40 223.73h-12.0" stroke="#0c0c0c" stroke-width="3.6" fill="none"/>
<text x="760.4" y="107.1" font-size="86.75" font-family='"Liberation Sans", Arial, Helvetica, sans-serif' text-anchor="start" fill="#080808" >Weight concentration</text>
<text x="599.8" y="1510.6" font-size="86.9" font-family='"Liberation Sans", Arial, Helvetica, sans-serif' text-anchor="start" fill="#080808" >Molar concentration, mol/L</text>
<g transform="translate(119.4,1224.7) rotate(-90)">
<text x="0.0" y="0.0" font-size="86.8" font-family='"Liberation Sans", Arial, Helvetica, sans-serif' text-anchor="start" fill="#080808" >Concentration of ions, m<tspan dy="-46" font-size="52">-3</tspan></text>
</g>
<text x="289.9" y="1406.6" font-size="67.6" font-family='"Liberation Sans", Arial, Helvetica, sans-serif' text-anchor="start" fill="#080808" >10</text>
<text x="363.1" y="1370.1" font-size="41.0" font-family='"Liberation Sans", Arial, Helvetica, sans-serif' text-anchor="start" fill="#080808" >-9</text>
<text x="620.0" y="1406.6" font-size="67.6" font-family='"Liberation Sans", Arial, Helvetica, sans-serif' text-anchor="start" fill="#080808" >10</text>
<text x="693.2" y="1370.1" font-size="41.0" font-family='"Liberation Sans", Arial, Helvetica, sans-serif' text-anchor="start" fill="#080808" >-8</text>
<text x="950.2" y="1406.6" font-size="67.6" font-family='"Liberation Sans", Arial, Helvetica, sans-serif' text-anchor="start" fill="#080808" >10</text>
<text x="1023.4" y="1370.1" font-size="41.0" font-family='"Liberation Sans", Arial, Helvetica, sans-serif' text-anchor="start" fill="#080808" >-7</text>
<text x="1280.3" y="1406.6" font-size="67.6" font-family='"Liberation Sans", Arial, Helvetica, sans-serif' text-anchor="start" fill="#080808" >10</text>
<text x="1353.5" y="1370.1" font-size="41.0" font-family='"Liberation Sans", Arial, Helvetica, sans-serif' text-anchor="start" fill="#080808" >-6</text>
<text x="1610.5" y="1406.6" font-size="67.6" font-family='"Liberation Sans", Arial, Helvetica, sans-serif' text-anchor="start" fill="#080808" >10</text>
<text x="1683.7" y="1370.1" font-size="41.0" font-family='"Liberation Sans", Arial, Helvetica, sans-serif' text-anchor="start" fill="#080808" >-5</text>
<text x="1940.7" y="1406.6" font-size="67.6" font-family='"Liberation Sans", Arial, Helvetica, sans-serif' text-anchor="start" fill="#080808" >10</text>
<text x="2013.8" y="1370.1" font-size="41.0" font-family='"Liberation Sans", Arial, Helvetica, sans-serif' text-anchor="start" fill="#080808" >-4</text>
<text x="310.2" y="181.4" font-size="67.6" font-family='"Liberation Sans", Arial, Helvetica, sans-serif' text-anchor="start" fill="#080808" >10</text>
<text x="383.4" y="144.9" font-size="41.0" font-family='"Liberation Sans", Arial, Helvetica, sans-serif' text-anchor="start" fill="#080808" >-6</text>
<text x="647.0" y="181.4" font-size="67.6" font-family='"Liberation Sans", Arial, Helvetica, sans-serif' text-anchor="start" fill="#080808" >10</text>
<text x="720.2" y="144.9" font-size="41.0" font-family='"Liberation Sans", Arial, Helvetica, sans-serif' text-anchor="start" fill="#080808" >-5</text>
<text x="964.0" y="181.4" font-size="67.6" font-family='"Liberation Sans", Arial, Helvetica, sans-serif' text-anchor="start" fill="#080808" >10</text>
<text x="1037.2" y="144.9" font-size="41.0" font-family='"Liberation Sans", Arial, Helvetica, sans-serif' text-anchor="start" fill="#080808" >-4</text>
<text x="1301.0" y="181.4" font-size="67.6" font-family='"Liberation Sans", Arial, Helvetica, sans-serif' text-anchor="start" fill="#080808" >10</text>
<text x="1374.2" y="144.9" font-size="41.0" font-family='"Liberation Sans", Arial, Helvetica, sans-serif' text-anchor="start" fill="#080808" >-3</text>
<text x="1636.5" y="181.4" font-size="67.6" font-family='"Liberation Sans", Arial, Helvetica, sans-serif' text-anchor="start" fill="#080808" >10</text>
<text x="1709.7" y="144.9" font-size="41.0" font-family='"Liberation Sans", Arial, Helvetica, sans-serif' text-anchor="start" fill="#080808" >-2</text>
<text x="1974.0" y="181.4" font-size="67.6" font-family='"Liberation Sans", Arial, Helvetica, sans-serif' text-anchor="start" fill="#080808" >10</text>
<text x="2047.2" y="144.9" font-size="41.0" font-family='"Liberation Sans", Arial, Helvetica, sans-serif' text-anchor="start" fill="#080808" >-1</text>
<text x="173.3" y="1328.6" font-size="67.6" font-family='"Liberation Sans", Arial, Helvetica, sans-serif' text-anchor="start" fill="#080808" >10</text>
<text x="246.5" y="1292.1" font-size="41.0" font-family='"Liberation Sans", Arial, Helvetica, sans-serif' text-anchor="start" fill="#080808" >16</text>
<text x="173.3" y="1167.5" font-size="67.6" font-family='"Liberation Sans", Arial, Helvetica, sans-serif' text-anchor="start" fill="#080808" >10</text>
<text x="246.5" y="1131.0" font-size="41.0" font-family='"Liberation Sans", Arial, Helvetica, sans-serif' text-anchor="start" fill="#080808" >17</text>
<text x="173.3" y="1006.3" font-size="67.6" font-family='"Liberation Sans", Arial, Helvetica, sans-serif' text-anchor="start" fill="#080808" >10</text>
<text x="246.5" y="969.8" font-size="41.0" font-family='"Liberation Sans", Arial, Helvetica, sans-serif' text-anchor="start" fill="#080808" >18</text>
<text x="173.3" y="845.2" font-size="67.6" font-family='"Liberation Sans", Arial, Helvetica, sans-serif' text-anchor="start" fill="#080808" >10</text>
<text x="246.5" y="808.7" font-size="41.0" font-family='"Liberation Sans", Arial, Helvetica, sans-serif' text-anchor="start" fill="#080808" >19</text>
<text x="173.3" y="684.0" font-size="67.6" font-family='"Liberation Sans", Arial, Helvetica, sans-serif' text-anchor="start" fill="#080808" >10</text>
<text x="246.5" y="647.5" font-size="41.0" font-family='"Liberation Sans", Arial, Helvetica, sans-serif' text-anchor="start" fill="#080808" >20</text>
<text x="173.3" y="522.9" font-size="67.6" font-family='"Liberation Sans", Arial, Helvetica, sans-serif' text-anchor="start" fill="#080808" >10</text>
<text x="246.5" y="486.4" font-size="41.0" font-family='"Liberation Sans", Arial, Helvetica, sans-serif' text-anchor="start" fill="#080808" >21</text>
<text x="173.3" y="361.8" font-size="67.6" font-family='"Liberation Sans", Arial, Helvetica, sans-serif' text-anchor="start" fill="#080808" >10</text>
<text x="246.5" y="325.3" font-size="41.0" font-family='"Liberation Sans", Arial, Helvetica, sans-serif' text-anchor="start" fill="#080808" >22</text>
<text x="580.8" y="331.0" font-size="67.6" font-family='"Liberation Sans", Arial, Helvetica, sans-serif' text-anchor="start" fill="#080808" >Electrolyte</text>
<text x="1015.6" y="1158.8" font-size="67.6" font-family='"Liberation Sans", Arial, Helvetica, sans-serif' text-anchor="start" fill="#080808" >Ion-generating nanoparticles</text>
<text x="2011.5" y="346.8" font-size="60" font-family='"Liberation Serif", "DejaVu Serif", serif' text-anchor="start" fill="#080808" >ν</text>
<text x="2041.0" y="373.6" font-size="41.0" font-family='"Liberation Sans", Arial, Helvetica, sans-serif' text-anchor="start" fill="#080808" >NP</text>
<text x="2097.0" y="346.8" font-size="67.6" font-family='"Liberation Sans", Arial, Helvetica, sans-serif' text-anchor="start" fill="#080808" >=10</text>
<text x="2213.6" y="310.3" font-size="41.0" font-family='"Liberation Sans", Arial, Helvetica, sans-serif' text-anchor="start" fill="#080808" >-1</text>
<text x="2011.5" y="466.8" font-size="60" font-family='"Liberation Serif", "DejaVu Serif", serif' text-anchor="start" fill="#080808" >ν</text>
<text x="2041.0" y="493.6" font-size="41.0" font-family='"Liberation Sans", Arial, Helvetica, sans-serif' text-anchor="start" fill="#080808" >NP</text>
<text x="2097.0" y="466.8" font-size="67.6" font-family='"Liberation Sans", Arial, Helvetica, sans-serif' text-anchor="start" fill="#080808" >=10</text>
<text x="2213.6" y="430.3" font-size="41.0" font-family='"Liberation Sans", Arial, Helvetica, sans-serif' text-anchor="start" fill="#080808" >-2</text>
<text x="2011.5" y="585.9" font-size="60" font-family='"Liberation Serif", "DejaVu Serif", serif' text-anchor="start" fill="#080808" >ν</text>
<text x="2041.0" y="612.7" font-size="41.0" font-family='"Liberation Sans", Arial, Helvetica, sans-serif' text-anchor="start" fill="#080808" >NP</text>
<text x="2097.0" y="585.9" font-size="67.6" font-family='"Liberation Sans", Arial, Helvetica, sans-serif' text-anchor="start" fill="#080808" >=3.2x10</text>
<text x="2338.4" y="549.4" font-size="41.0" font-family='"Liberation Sans", Arial, Helvetica, sans-serif' text-anchor="start" fill="#080808" >-3</text>
<text x="2011.5" y="705.8" font-size="60" font-family='"Liberation Serif", "DejaVu Serif", serif' text-anchor="start" fill="#080808" >ν</text>
<text x="2041.0" y="732.6" font-size="41.0" font-family='"Liberation Sans", Arial, Helvetica, sans-serif' text-anchor="start" fill="#080808" >NP</text>
<text x="2097.0" y="705.8" font-size="67.6" font-family='"Liberation Sans", Arial, Helvetica, sans-serif' text-anchor="start" fill="#080808" >=10</text>
<text x="2213.6" y="669.3" font-size="41.0" font-family='"Liberation Sans", Arial, Helvetica, sans-serif' text-anchor="start" fill="#080808" >-3</text>
<text x="2011.5" y="826.2" font-size="60" font-family='"Liberation Serif", "DejaVu Serif", serif' text-anchor="start" fill="#080808" >ν</text>
<text x="2041.0" y="853.0" font-size="41.0" font-family='"Liberation Sans", Arial, Helvetica, sans-serif' text-anchor="start" fill="#080808" >NP</text>
<text x="2097.0" y="826.2" font-size="67.6" font-family='"Liberation Sans", Arial, Helvetica, sans-serif' text-anchor="start" fill="#080808" >=10</text>
<text x="2213.6" y="789.7" font-size="41.0" font-family='"Liberation Sans", Arial, Helvetica, sans-serif' text-anchor="start" fill="#080808" >-4</text>
</g>
</svg>
</body></html>
